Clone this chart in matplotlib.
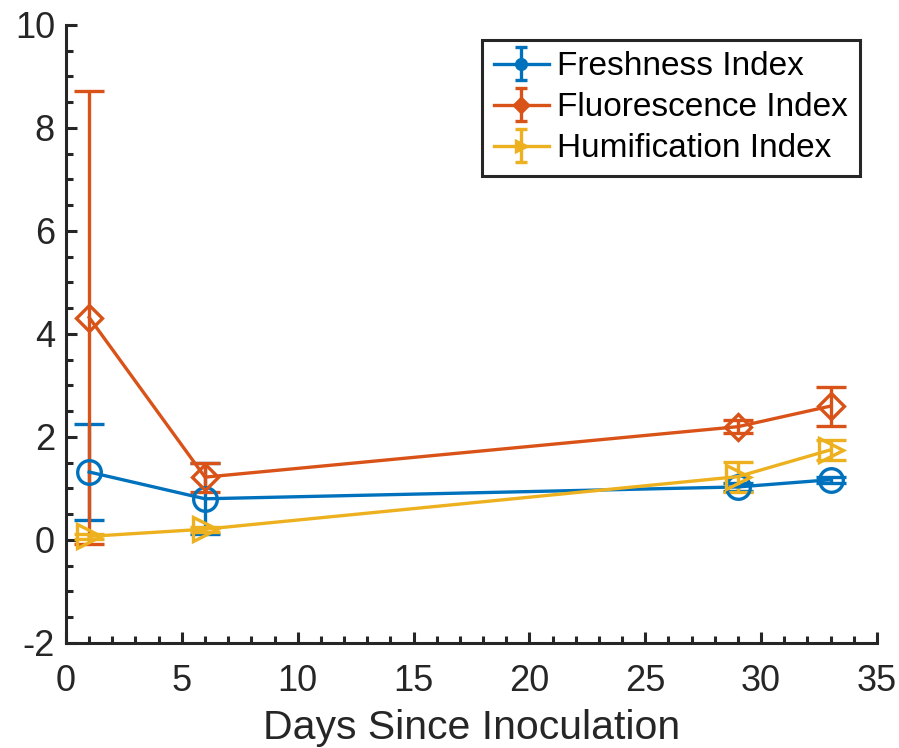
import matplotlib.pyplot as plt
from matplotlib.ticker import MultipleLocator
from matplotlib.legend_handler import HandlerErrorbar
from matplotlib.lines import Line2D

plt.rcParams['font.family'] = ['Liberation Sans', 'DejaVu Sans']
plt.rcParams['axes.unicode_minus'] = False

# Sampling days and index values (mean +/- error)
days = [1, 6, 29, 33]

fresh = [1.32, 0.80, 1.03, 1.17]
fresh_err = [0.93, 0.69, 0.08, 0.06]

fluor = [4.32, 1.22, 2.20, 2.60]
fluor_err = [4.40, 0.28, 0.13, 0.38]

humif = [0.07, 0.21, 1.23, 1.75]
humif_err = [0.05, 0.05, 0.29, 0.20]

labels = ['Freshness Index', 'Fluorescence Index', 'Humification Index']
colors = ['#0072BD', '#D95319', '#EDB120']
markers = ['o', 'D', '>']
msizes = [17, 13, 17]


class SmallErrorbarHandler(HandlerErrorbar):
    # legend entry: line, vertical error bar with short caps, small filled marker
    def create_artists(self, legend, orig_handle, xdescent, ydescent,
                       width, height, fontsize, trans):
        arts = super().create_artists(legend, orig_handle, xdescent, ydescent,
                                      width, height, fontsize, trans)
        for a in arts:
            if isinstance(a, Line2D):
                m = a.get_marker()
                if m in ('_', 0, 1, 2, 3):
                    a.set_markersize(9)
                elif m not in (None, 'None', '', ' '):
                    a.set_markerfacecolor(a.get_markeredgecolor())
                    a.set_markersize(7)
        return arts


fig = plt.figure(figsize=(8.99, 7.48), dpi=100)
ax = fig.add_axes([0.0734, 0.1404, 0.902, 0.8262])

series = [(fresh, fresh_err), (fluor, fluor_err), (humif, humif_err)]
for (y, e), lab, c, m, ms in zip(series, labels, colors, markers, msizes):
    ax.errorbar(days, y, yerr=e, color=c, marker=m, markersize=ms,
                markerfacecolor='none', markeredgewidth=2.4, linewidth=2.4,
                elinewidth=2.4, capsize=11, capthick=2.4, label=lab)

ax.set_xlim(0, 35)
ax.set_ylim(-2, 10)
ax.xaxis.set_major_locator(MultipleLocator(5))
ax.xaxis.set_minor_locator(MultipleLocator(1))
ax.yaxis.set_major_locator(MultipleLocator(2))
ax.yaxis.set_minor_locator(MultipleLocator(0.5))

for s in ['top', 'right']:
    ax.spines[s].set_visible(False)
for s in ['left', 'bottom']:
    ax.spines[s].set_linewidth(2.2)
    ax.spines[s].set_color('#262626')

ax.tick_params(which='both', direction='in', width=2.2, color='#262626',
               labelsize=26, labelcolor='#262626')
ax.tick_params(which='major', length=8)
ax.tick_params(which='minor', length=5)
ax.tick_params(axis='y', which='major', pad=8)
ax.tick_params(axis='x', which='major', pad=15)

ax.set_xlabel('Days Since Inoculation', fontsize=29.5, color='#262626', labelpad=7)

leg = ax.legend(loc='upper right', bbox_to_anchor=(0.979, 0.976), borderaxespad=0,
                fontsize=24, handler_map={type(ax.containers[0]): SmallErrorbarHandler(xerr_size=0.5)},
                handlelength=1.65, handletextpad=0.25,
                borderpad=0.35, labelspacing=0.3, fancybox=False,
                framealpha=1, edgecolor='#262626')
leg.get_frame().set_linewidth(2.2)

fig.savefig('out.png', dpi=100)
